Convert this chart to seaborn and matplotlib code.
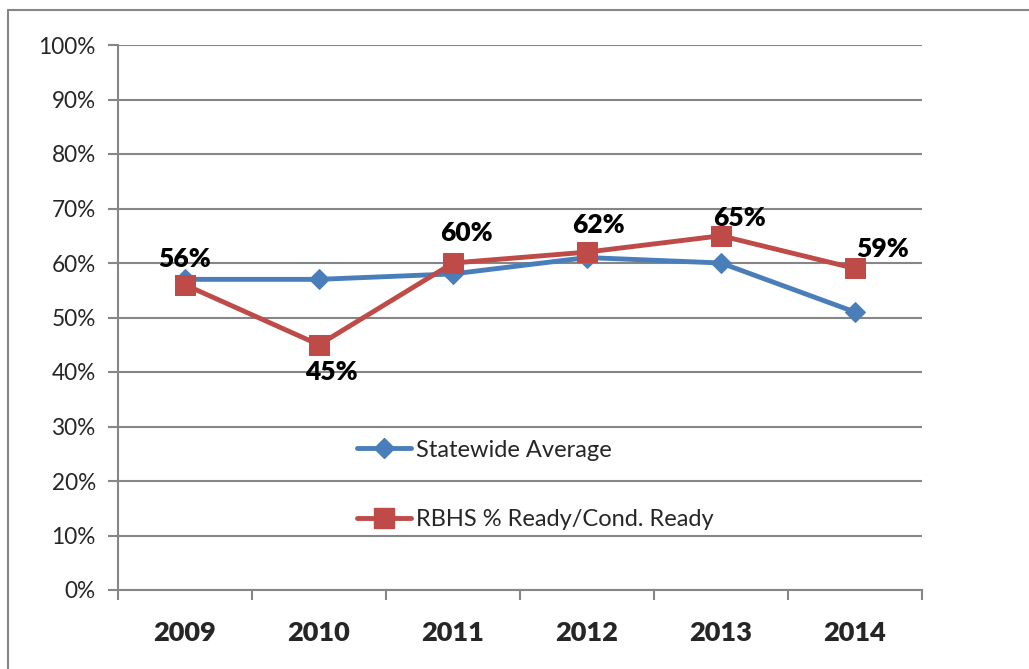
import pandas as pd
import matplotlib.pyplot as plt
import seaborn as sns
from matplotlib.ticker import FixedLocator, PercentFormatter
from matplotlib.lines import Line2D

# data
years = ['2009', '2010', '2011', '2012', '2013', '2014']
statewide = [57, 57, 58, 61, 60, 51]
rbhs = [56, 45, 60, 62, 65, 59]
# label offsets in pixels (dx, dy) for the RBHS data labels
label_off = [(0, 26), (12, -27), (13, 30), (11, 27), (19, 18), (28, 19)]

sns.set_style('white')
plt.rcParams['font.family'] = ['Lato', 'DejaVu Sans']

blue = '#4A7EBB'
red = '#BE4B48'
grid_c = '#868686'

df = pd.DataFrame({'pos': range(len(years)), 'Statewide Average': statewide,
                   'RBHS % Ready/Cond. Ready': rbhs})

fig = plt.figure(figsize=(10.29, 6.69), dpi=100)
ax = fig.add_axes([118 / 1029, 1 - 590 / 669, (922 - 118) / 1029, (590 - 45) / 669])

sns.lineplot(data=df, x='pos', y='Statewide Average', ax=ax, color=blue, lw=3.5,
             marker='D', markersize=10, markeredgecolor=blue, zorder=3)
sns.lineplot(data=df, x='pos', y='RBHS % Ready/Cond. Ready', ax=ax, color=red, lw=3.5,
             marker='s', markersize=14, markeredgecolor=red, zorder=4)

# data labels
for i, v in enumerate(rbhs):
    dx, dy = label_off[i]
    ax.annotate(f'{v}%', (i, v), xytext=(dx * 0.72, dy * 0.72), textcoords='offset points',
                ha='center', va='center', fontsize=19, fontweight='heavy', color='black', zorder=5)

ax.set_xlim(-0.5, len(years) - 0.5)
ax.set_ylim(0, 100)
ax.yaxis.set_major_locator(FixedLocator(range(0, 101, 10)))
ax.yaxis.set_major_formatter(PercentFormatter(decimals=0))
ax.grid(axis='y', color=grid_c, lw=1.5)
ax.set_axisbelow(True)
ax.set_xlabel('')
ax.set_ylabel('')

ax.set_xticks(range(len(years)))
ax.set_xticklabels(years, fontsize=19.5, fontweight='heavy')
ax.set_xticks([i - 0.5 for i in range(len(years) + 1)], minor=True)
ax.tick_params(axis='x', which='major', length=0, pad=22)
ax.tick_params(axis='x', which='minor', length=7, width=1.5, color=grid_c, direction='out')
ax.tick_params(axis='y', length=7, width=1.5, color=grid_c, direction='out', labelsize=16.3, pad=9)
ax.xaxis.set_ticks_position('bottom')
ax.yaxis.set_ticks_position('left')

for s in ['top', 'right']:
    ax.spines[s].set_visible(False)
for s in ['left', 'bottom']:
    ax.spines[s].set_color(grid_c)
    ax.spines[s].set_linewidth(1.5)

handles = [Line2D([], [], color=blue, lw=3.5, marker='D', markersize=10),
           Line2D([], [], color=red, lw=3.5, marker='s', markersize=14)]
ax.legend(handles, ['Statewide Average', 'RBHS % Ready/Cond. Ready'], loc='center left',
          bbox_to_anchor=(0.297, 0.193), frameon=False, fontsize=17, handlelength=2.3,
          handletextpad=0.2, labelspacing=2.05, borderpad=0, borderaxespad=0)

# outer chart border (left and top edges visible)
fig.add_artist(Line2D([8 / 1029, 8 / 1029], [0, 1 - 10 / 669], color=grid_c, lw=1.5))
fig.add_artist(Line2D([8 / 1029, 1], [1 - 10 / 669, 1 - 10 / 669], color=grid_c, lw=1.5))

fig.savefig('out.png', dpi=100)
